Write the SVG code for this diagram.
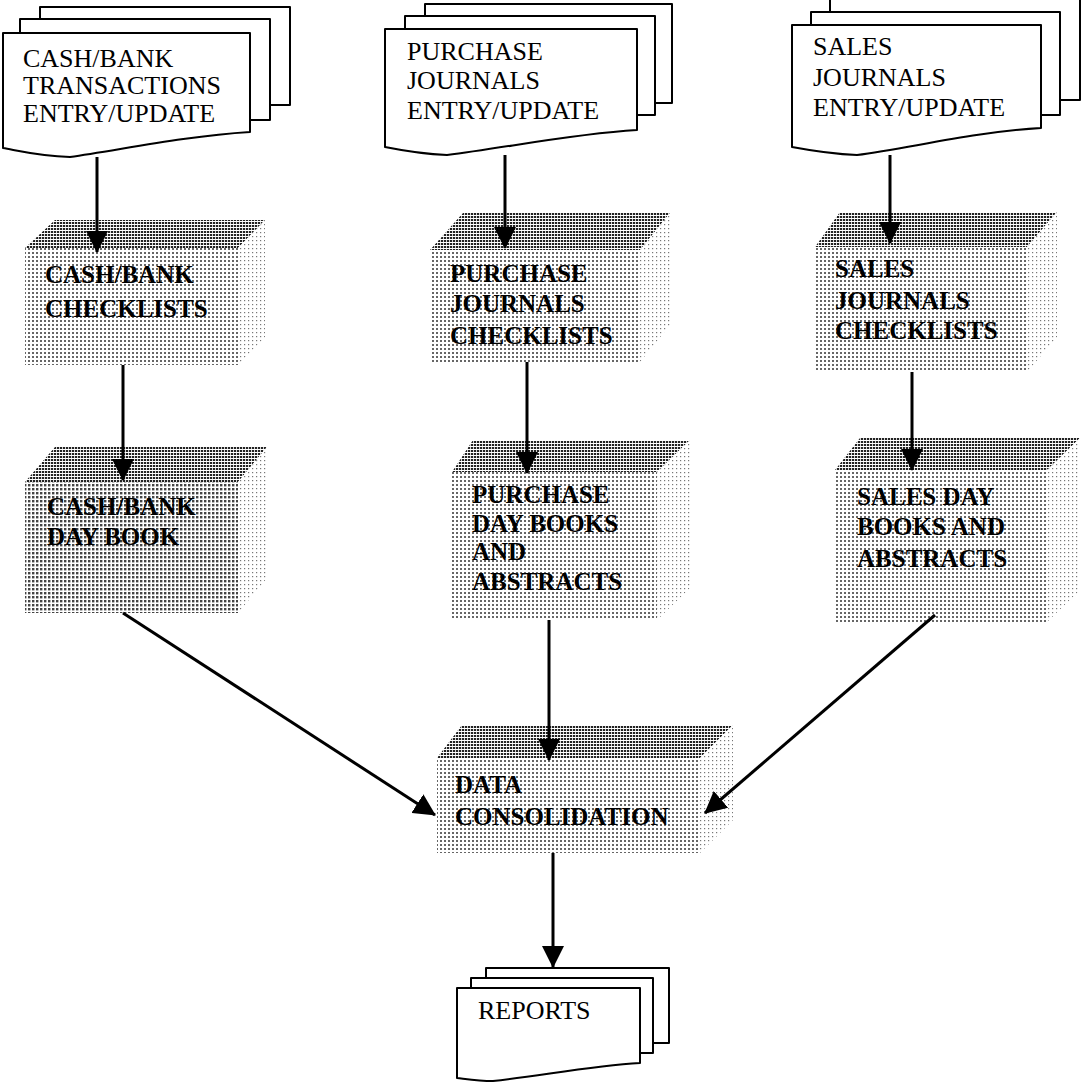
<svg xmlns="http://www.w3.org/2000/svg" width="1083" height="1086" viewBox="0 0 1083 1086">
<defs>
<pattern id="pFront" width="4" height="4" patternUnits="userSpaceOnUse"><rect width="4" height="4" fill="#ffffff"/><rect x="0" y="0" width="2" height="2" fill="#666"/></pattern>
<pattern id="pFrontDark" width="4" height="4" patternUnits="userSpaceOnUse"><rect width="4" height="4" fill="#ffffff"/><rect x="0" y="0" width="2.4" height="2.4" fill="#444"/></pattern>
<pattern id="pTop" width="3" height="3" patternUnits="userSpaceOnUse"><rect width="3" height="3" fill="#ffffff"/><rect x="0" y="0" width="2.2" height="2" fill="#222"/></pattern>
<pattern id="pSide" width="4" height="4" patternUnits="userSpaceOnUse"><rect width="4" height="4" fill="#ffffff"/><rect x="0" y="0" width="1.2" height="1.2" fill="#777"/></pattern>
<marker id="ah" markerUnits="userSpaceOnUse" markerWidth="22" markerHeight="22" refX="21" refY="11" orient="auto"><path d="M0,0 L22,11 L0,22 Z" fill="#000"/></marker>
</defs>
<style>
.doc{fill:#fff;stroke:#000;stroke-width:2;stroke-linejoin:round}
.front{stroke:none}
.top{fill:url(#pTop);stroke:none}
.side{fill:url(#pSide);stroke:none}
.t{font-family:"Liberation Serif","Times New Roman",serif;font-size:26px;fill:#000}
.b{font-family:"Liberation Serif","Times New Roman",serif;font-size:25px;font-weight:bold;fill:#000}
.c{stroke:#000;stroke-width:3;fill:none;marker-end:url(#ah)}
</style>
<rect width="1083" height="1086" fill="#fff"/>

<g id="cashbank-entry">
<rect class="doc" x="40" y="7" width="250" height="98"/>
<rect class="doc" x="20" y="19" width="250" height="101"/>
<path class="doc" d="M3,33 H250 V132 C185,136 120,150 70,157 C40,156 20,151 3,148 Z"/>
<text class="t" x="23" y="67">CASH/BANK</text>
<text class="t" x="23" y="94">TRANSACTIONS</text>
<text class="t" x="23" y="122">ENTRY/UPDATE</text>
</g>

<g id="purchase-entry">
<rect class="doc" x="425" y="4" width="247" height="99"/>
<rect class="doc" x="405" y="16" width="250" height="99"/>
<path class="doc" d="M385,29 H637 V130 C570,134 505,148 447,155 C420,154 400,150 385,147 Z"/>
<text class="t" x="407" y="60">PURCHASE</text>
<text class="t" x="407" y="89">JOURNALS</text>
<text class="t" x="407" y="119">ENTRY/UPDATE</text>
</g>

<g id="sales-entry">
<rect class="doc" x="830" y="-4" width="250" height="104"/>
<rect class="doc" x="811" y="12" width="249" height="103"/>
<path class="doc" d="M792,25 H1041 V128 C975,132 910,148 857,155 C830,154 808,150 792,147 Z"/>
<text class="t" x="813" y="55">SALES</text>
<text class="t" x="813" y="86">JOURNALS</text>
<text class="t" x="813" y="116">ENTRY/UPDATE</text>
</g>

<g id="cashbank-checklists">
<polygon class="top" points="25,248 55,220 265,220 238,248"/>
<polygon class="side" points="238,248 265,220 265,337 238,365"/>
<rect class="front" x="25" y="248" width="213" height="117" fill="url(#pFront)"/>
<text class="b" x="45" y="283">CASH/BANK</text>
<text class="b" x="45" y="317">CHECKLISTS</text>
</g>

<g id="purchase-checklists">
<polygon class="top" points="430,250 463,213 670,213 640,250"/>
<polygon class="side" points="640,250 670,213 670,325 640,362"/>
<rect class="front" x="430" y="250" width="210" height="112" fill="url(#pFront)"/>
<text class="b" x="450" y="282">PURCHASE</text>
<text class="b" x="450" y="312">JOURNALS</text>
<text class="b" x="450" y="344">CHECKLISTS</text>
</g>

<g id="sales-checklists">
<polygon class="top" points="815,247 840,212 1057,212 1027,247"/>
<polygon class="side" points="1027,247 1057,212 1057,337 1027,372"/>
<rect class="front" x="815" y="247" width="212" height="125" fill="url(#pFront)"/>
<text class="b" x="835" y="277">SALES</text>
<text class="b" x="835" y="309">JOURNALS</text>
<text class="b" x="835" y="339">CHECKLISTS</text>
</g>

<g id="cashbank-daybook">
<polygon class="top" points="25,482 55,447 267,447 238,482"/>
<polygon class="side" points="238,482 267,447 267,578 238,613"/>
<rect class="front" x="25" y="482" width="213" height="131" fill="url(#pFrontDark)"/>
<text class="b" x="47" y="515">CASH/BANK</text>
<text class="b" x="47" y="545">DAY BOOK</text>
</g>

<g id="purchase-daybooks">
<polygon class="top" points="452,472 473,440 690,440 657,472"/>
<polygon class="side" points="657,472 690,440 690,588 657,620"/>
<rect class="front" x="452" y="472" width="205" height="148" fill="url(#pFront)"/>
<text class="b" x="472" y="503">PURCHASE</text>
<text class="b" x="472" y="532">DAY BOOKS</text>
<text class="b" x="472" y="560">AND</text>
<text class="b" x="472" y="590">ABSTRACTS</text>
</g>

<g id="sales-daybooks">
<polygon class="top" points="835,470 860,438 1080,438 1047,470"/>
<polygon class="side" points="1047,470 1080,438 1080,590 1047,622"/>
<rect class="front" x="835" y="470" width="212" height="152" fill="url(#pFront)"/>
<text class="b" x="857" y="505">SALES DAY</text>
<text class="b" x="857" y="535">BOOKS AND</text>
<text class="b" x="857" y="567">ABSTRACTS</text>
</g>

<g id="data-consolidation">
<polygon class="top" points="437,758 462,725 733,725 700,758"/>
<polygon class="side" points="700,758 733,725 733,820 700,853"/>
<rect class="front" x="437" y="758" width="263" height="95" fill="url(#pFront)"/>
<text class="b" x="455" y="793">DATA</text>
<text class="b" x="455" y="825">CONSOLIDATION</text>
</g>

<g id="reports">
<rect class="doc" x="486" y="968" width="183" height="75"/>
<rect class="doc" x="471" y="978" width="182" height="75"/>
<path class="doc" d="M457,988 H640 V1063 C590,1066 540,1076 493,1081 C478,1081 466,1079 457,1078 Z"/>
<text class="t" x="478" y="1019">REPORTS</text>
</g>

<g id="connectors">
<line class="c" x1="97" y1="157" x2="97" y2="252"/>
<line class="c" x1="505" y1="155" x2="505" y2="248"/>
<line class="c" x1="890" y1="155" x2="890" y2="243"/>
<line class="c" x1="123" y1="365" x2="123" y2="480"/>
<line class="c" x1="527" y1="362" x2="527" y2="473"/>
<line class="c" x1="912" y1="372" x2="912" y2="470"/>
<line class="c" x1="123" y1="613" x2="435" y2="815"/>
<line class="c" x1="549" y1="620" x2="549" y2="760"/>
<line class="c" x1="935" y1="615" x2="705" y2="813"/>
<line class="c" x1="553" y1="853" x2="553" y2="967"/>
</g>
</svg>
